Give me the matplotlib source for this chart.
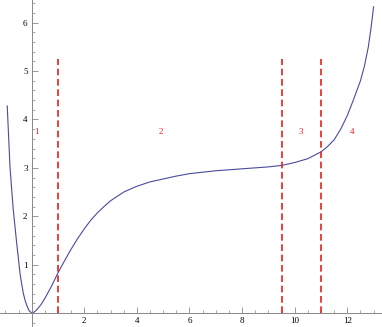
import numpy as np
import matplotlib
matplotlib.use("Agg")
import matplotlib.pyplot as plt
from matplotlib.ticker import MultipleLocator

# curve points
curve_x = [-0.93, -0.88, -0.825, -0.76, -0.70, -0.63, -0.57, -0.5, -0.445, -0.38,
           -0.32, -0.25, -0.19, -0.1, 0.0,
           0.1, 0.2, 0.35, 0.5, 0.75, 1.0, 1.25, 1.5, 1.75, 2.0, 2.25, 2.5, 2.75,
           3.0, 3.5, 4.0, 4.5, 5.0, 5.5, 6.0, 7.0, 8.0, 9.0, 9.5, 10.0, 10.5,
           11.0, 11.25, 11.5, 11.75, 12.0, 12.25, 12.5, 12.65, 12.8, 12.9, 13.0]
curve_y = [4.28, 3.68, 3.02, 2.55, 2.13, 1.76, 1.44, 1.1, 0.82, 0.6,
           0.41, 0.26, 0.16, 0.05, 0.0,
           0.02, 0.07, 0.17, 0.3, 0.55, 0.83, 1.08, 1.32, 1.54, 1.74, 1.92, 2.07, 2.2,
           2.32, 2.5, 2.62, 2.71, 2.77, 2.83, 2.88, 2.94, 2.98, 3.02, 3.05, 3.11, 3.19,
           3.33, 3.44, 3.58, 3.8, 4.08, 4.43, 4.8, 5.1, 5.5, 5.88, 6.33]

bounds = [1, 9.5, 11]
bound_top = 5.25
region_labels = ["1", "2", "3", "4"]
label_x = [0.2, 4.9, 10.25, 12.2]
label_y = 3.75

plt.rcParams['font.family'] = ['Liberation Serif', 'DejaVu Serif']

fig = plt.figure(figsize=(3.82, 3.27), dpi=100)
ax = fig.add_axes([0, 0, 1, 1])
ax.set_xlim(-1.205, 13.32)
ax.set_ylim(-0.29, 6.47)

ax.plot(curve_x, curve_y, color='#4a4aa0', lw=0.8)
ax.vlines(bounds, 0, bound_top, colors='#e8201c', linestyles=(0, (4, 2.2)), lw=1.2)
for t, lx in zip(region_labels, label_x):
    ax.text(lx, label_y, t, color='#e8201c', fontsize=6.5, ha='center', va='center')

for s in ['top', 'right']:
    ax.spines[s].set_visible(False)
ax.spines['left'].set_position(('data', 0))
ax.spines['bottom'].set_position(('data', 0))
ax.spines['left'].set_color('#888888')
ax.spines['bottom'].set_color('#888888')
ax.spines['left'].set_linewidth(0.7)
ax.spines['bottom'].set_linewidth(0.7)

ax.set_xticks([2, 4, 6, 8, 10, 12])
ax.set_yticks([1, 2, 3, 4, 5, 6])
ax.xaxis.set_minor_locator(MultipleLocator(0.5))
ax.yaxis.set_minor_locator(MultipleLocator(0.2))
ax.tick_params(axis='both', which='major', direction='in', length=4, width=0.6,
               color='#888888', labelsize=6.5, pad=3)
ax.tick_params(axis='both', which='minor', direction='in', length=2, width=0.5,
               color='#888888')
ax.patch.set_alpha(0)

fig.savefig("out.png", dpi=100)
